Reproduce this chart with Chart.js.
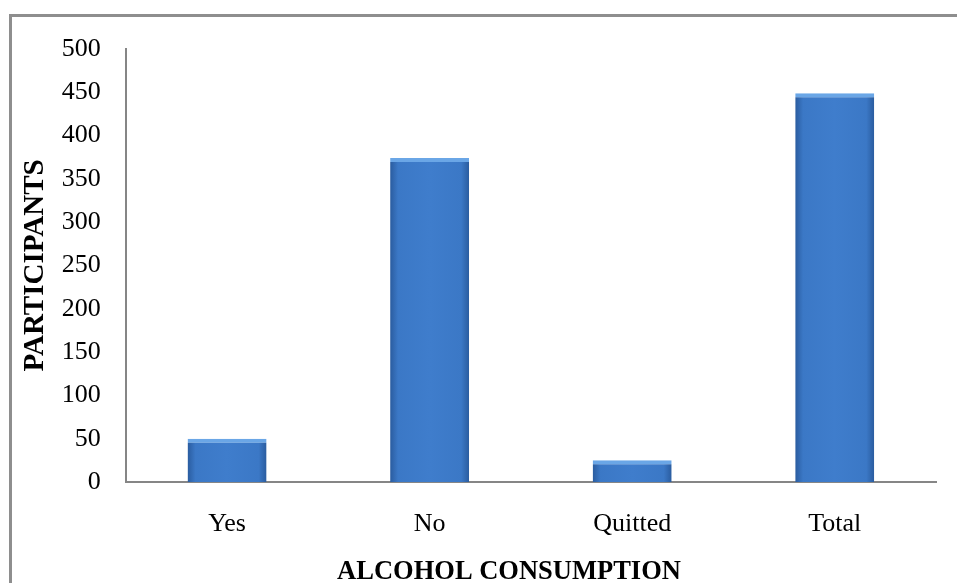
<!DOCTYPE html>
<html>
<head>
<meta charset="utf-8">
<script src="https://cdn.jsdelivr.net/npm/chart.js@4"></script>
<style>
  html, body { margin: 0; padding: 0; background: #fff; overflow: hidden; }
  body { width: 957px; height: 583px; position: relative; }
  .frame {
    position: absolute; left: 9px; top: 14px;
    width: 1100px; height: 700px;
    border: 3px solid #8e8e8e;
  }
  .graph { position: absolute; left: 0; top: 0; width: 1018px; height: 600px; }
</style>
</head>
<body>
<div class="frame"></div>
<div class="graph"><canvas id="chart"></canvas></div>
<script>
const categories = ['Yes', 'No', 'Quitted', 'Total'];
const participants = [50, 374, 25, 449];
const yTicks = [0, 50, 100, 150, 200, 250, 300, 350, 400, 450, 500];
const xTitle = 'ALCOHOL CONSUMPTION';
const yTitle = 'PARTICIPANTS';

const serif = '"Liberation Serif", "Times New Roman", serif';
const axisGray = '#868686';
const barShare = 0.39;

// darker left/right edges give the bars a bit of the bevelled look
function barFill(ctx) {
    const chart = ctx.chart;
    const area = chart.chartArea;
    if (!area) return '#3D7BC9';
    const cx = chart.scales.x.getPixelForValue(ctx.dataIndex);
    const w = (area.right - area.left) / categories.length * barShare;
    const g = chart.ctx.createLinearGradient(cx - w / 2, 0, cx + w / 2, 0);
    g.addColorStop(0, '#2A5C9F');
    g.addColorStop(0.1, '#3B78C6');
    g.addColorStop(0.5, '#3F7DCC');
    g.addColorStop(0.9, '#3B78C6');
    g.addColorStop(1, '#2A5C9F');
    return g;
}

const config = {
    type: 'bar',
    data: {
        labels: categories,
        datasets: [{
            label: yTitle,
            data: participants,
            backgroundColor: barFill,
            borderColor: '#6AA6E6',
            borderWidth: { top: 4, left: 0, right: 0, bottom: 0 },
            borderSkipped: 'bottom',
            barPercentage: barShare,
            categoryPercentage: 1,
        }]
    },
    options: {
        responsive: true,
        maintainAspectRatio: false,
        animation: false,
        layout: { padding: { top: 49, left: 0, right: 0, bottom: 0 } },
        plugins: {
            legend: { display: false },
            tooltip: { enabled: false },
            title: {
                display: true,
                position: 'bottom',
                text: xTitle,
                color: '#000',
                font: { family: serif, size: 26.5, weight: 'bold' },
                padding: { top: -11, bottom: 12 },
            },
        },
        scales: {
            x: {
                grid: { display: false, drawTicks: false },
                border: { display: true, color: axisGray, width: 2 },
                ticks: {
                    color: '#000',
                    padding: 27,
                    font: { family: serif, size: 26 },
                },
            },
            y: {
                min: 0,
                max: 500,
                afterBuildTicks: (scale) => {
                    scale.ticks = yTicks.map(v => ({ value: v }));
                },
                grid: { display: false, drawTicks: false },
                border: { display: true, color: axisGray, width: 2 },
                ticks: {
                    color: '#000',
                    padding: 25,
                    font: { family: serif, size: 26 },
                },
                title: {
                    display: true,
                    text: yTitle,
                    color: '#000',
                    font: { family: serif, size: 29, weight: 'bold' },
                    padding: { top: 18, bottom: -16 },
                },
            },
            // empty right-hand space so the bottom title centres like the original
            spacer: {
                type: 'linear',
                position: 'right',
                display: true,
                grid: { display: false, drawTicks: false },
                border: { display: false },
                ticks: { display: false },
                afterFit: (scale) => { scale.width = 82; },
            },
        }
    }
};

new Chart(document.getElementById('chart'), config);
</script>
</body>
</html>
